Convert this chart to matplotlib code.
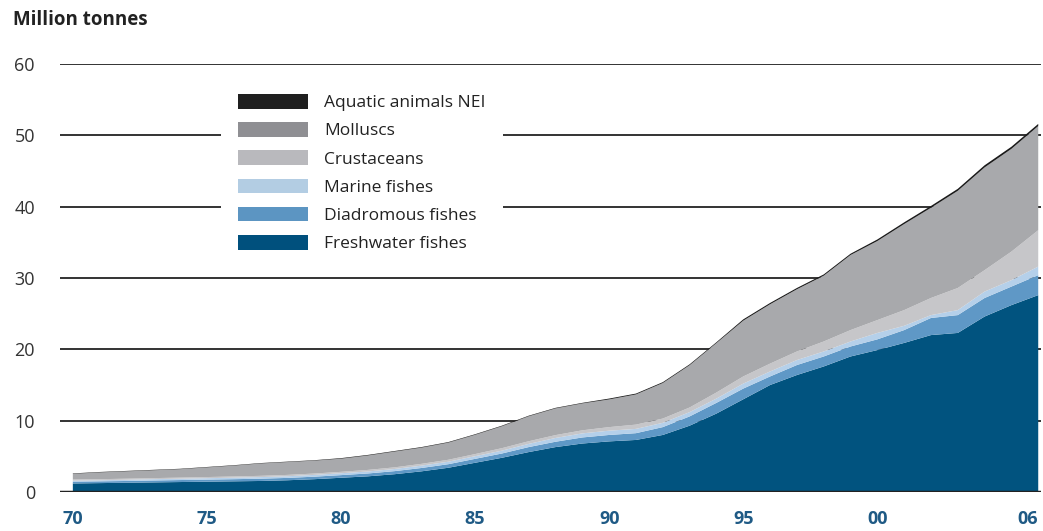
import numpy as np
import matplotlib.pyplot as plt
from matplotlib.patches import Patch

plt.rcParams['font.family'] = ['Open Sans', 'DejaVu Sans']

# === Data (million tonnes) ===
years = list(range(1970, 2007))

freshwater = [1.2, 1.25, 1.3, 1.35, 1.4, 1.45, 1.5, 1.55, 1.65, 1.8,
              2.0, 2.2, 2.5, 2.9, 3.4, 4.1, 4.8, 5.6, 6.3, 6.8,
              7.1, 7.3, 8.0, 9.3, 11.0, 13.0, 15.0, 16.4, 17.6, 19.0,
              19.9, 20.9, 22.0, 22.3, 24.6, 26.2, 27.6]
diadromous = [0.25, 0.25, 0.25, 0.27, 0.28, 0.29, 0.3, 0.32, 0.33, 0.35,
              0.37, 0.4, 0.43, 0.47, 0.5, 0.55, 0.6, 0.7, 0.75, 0.85,
              0.9, 0.95, 1.1, 1.3, 1.5, 1.5, 1.2, 1.4, 1.4, 1.4,
              1.5, 1.8, 2.4, 2.5, 2.6, 2.6, 2.8]
marine = [0.15, 0.15, 0.17, 0.18, 0.19, 0.2, 0.21, 0.22, 0.23, 0.25,
          0.26, 0.28, 0.3, 0.33, 0.35, 0.37, 0.4, 0.45, 0.53, 0.57,
          0.6, 0.6, 0.6, 0.6, 0.6, 0.7, 0.7, 0.7, 0.7, 0.7,
          0.9, 0.6, 0.4, 0.7, 0.9, 0.9, 1.2]
crustaceans = [0.15, 0.15, 0.15, 0.15, 0.15, 0.16, 0.17, 0.18, 0.19, 0.19,
               0.2, 0.22, 0.23, 0.25, 0.27, 0.3, 0.35, 0.37, 0.4, 0.43,
               0.5, 0.6, 0.6, 0.65, 0.85, 1.0, 1.1, 1.2, 1.4, 1.6,
               1.8, 2.2, 2.4, 3.1, 3.0, 4.0, 5.1]
molluscs = [0.8, 0.95, 1.03, 1.1, 1.18, 1.35, 1.52, 1.73, 1.8, 1.81,
            1.84, 2.02, 2.21, 2.27, 2.4, 2.7, 3.07, 3.5, 3.74, 3.77,
            3.88, 4.23, 4.98, 5.93, 6.93, 7.82, 8.32, 8.72, 9.22, 10.52,
            11.08, 12.06, 12.64, 13.62, 14.4, 14.4, 14.6]
aquatic_nei = [0.06] * 10 + [0.08] * 10 + [0.12] * 5 + [0.18] * 5 + \
              [0.22, 0.24, 0.26, 0.28, 0.3, 0.3, 0.3]

labels = ['Freshwater fishes', 'Diadromous fishes', 'Marine fishes',
          'Crustaceans', 'Molluscs', 'Aquatic animals NEI']
area_colors = ['#01537f', '#5f98c6', '#b5d0ea', '#c6c6c9', '#a8a9ac', '#1a1a1a']
legend_colors = ['#00507d', '#5c95c2', '#b3cde3', '#b9b9bd', '#8f8f93', '#1f1f1f']

xtick_pos = [1970, 1975, 1980, 1985, 1990, 1995, 2000, 2006]
xtick_lab = ['70', '75', '80', '85', '90', '95', '00', '06']
ytick_pos = [0, 10, 20, 30, 40, 50, 60]

# === Figure ===
fig = plt.figure(figsize=(10.43, 5.31), dpi=100)
ax = fig.add_axes([0.0575, 0.0734, 0.9405, 0.8061])

for yv in ytick_pos[1:]:
    ax.axhline(yv, color='#333333', lw=1.4, zorder=1)

ax.stackplot(years, freshwater, diadromous, marine, crustaceans, molluscs,
             aquatic_nei, colors=area_colors, linewidth=0, zorder=2)
ax.axhline(0, color='#222222', lw=2.5, zorder=3)

ax.set_xlim(1969.52, 2006.1)
ax.set_ylim(0, 60)
for s in ax.spines.values():
    s.set_visible(False)

ax.set_yticks(ytick_pos)
ax.set_yticklabels([str(v) for v in ytick_pos], fontsize=13, color='#333333')
ax.set_xticks(xtick_pos)
ax.set_xticklabels(xtick_lab, fontsize=13, color='#1f5a85', fontweight='bold')
ax.tick_params(axis='y', length=0, pad=18)
ax.tick_params(axis='x', length=0, pad=13)
ax.get_xticklabels()[-1].set_ha('right')
ax.get_xticklabels()[-1].set_x(2006.2)

handles = [Patch(facecolor=c, edgecolor='none') for c in legend_colors[::-1]]
leg = ax.legend(handles, labels[::-1], loc='upper left',
                bbox_to_anchor=(0.155, 0.991), fontsize=12.5,
                frameon=True, facecolor='white', edgecolor='none', framealpha=1,
                fancybox=False, handlelength=4.0, handleheight=0.92,
                labelspacing=0.63, handletextpad=0.95, borderpad=1.0)
leg.set_zorder(4)
for t in leg.get_texts():
    t.set_color('#222222')

fig.text(0.012, 0.963, 'Million tonnes', fontsize=13.5, fontweight='bold',
         color='#222222', va='center', ha='left')

fig.savefig('out.png', dpi=100)
